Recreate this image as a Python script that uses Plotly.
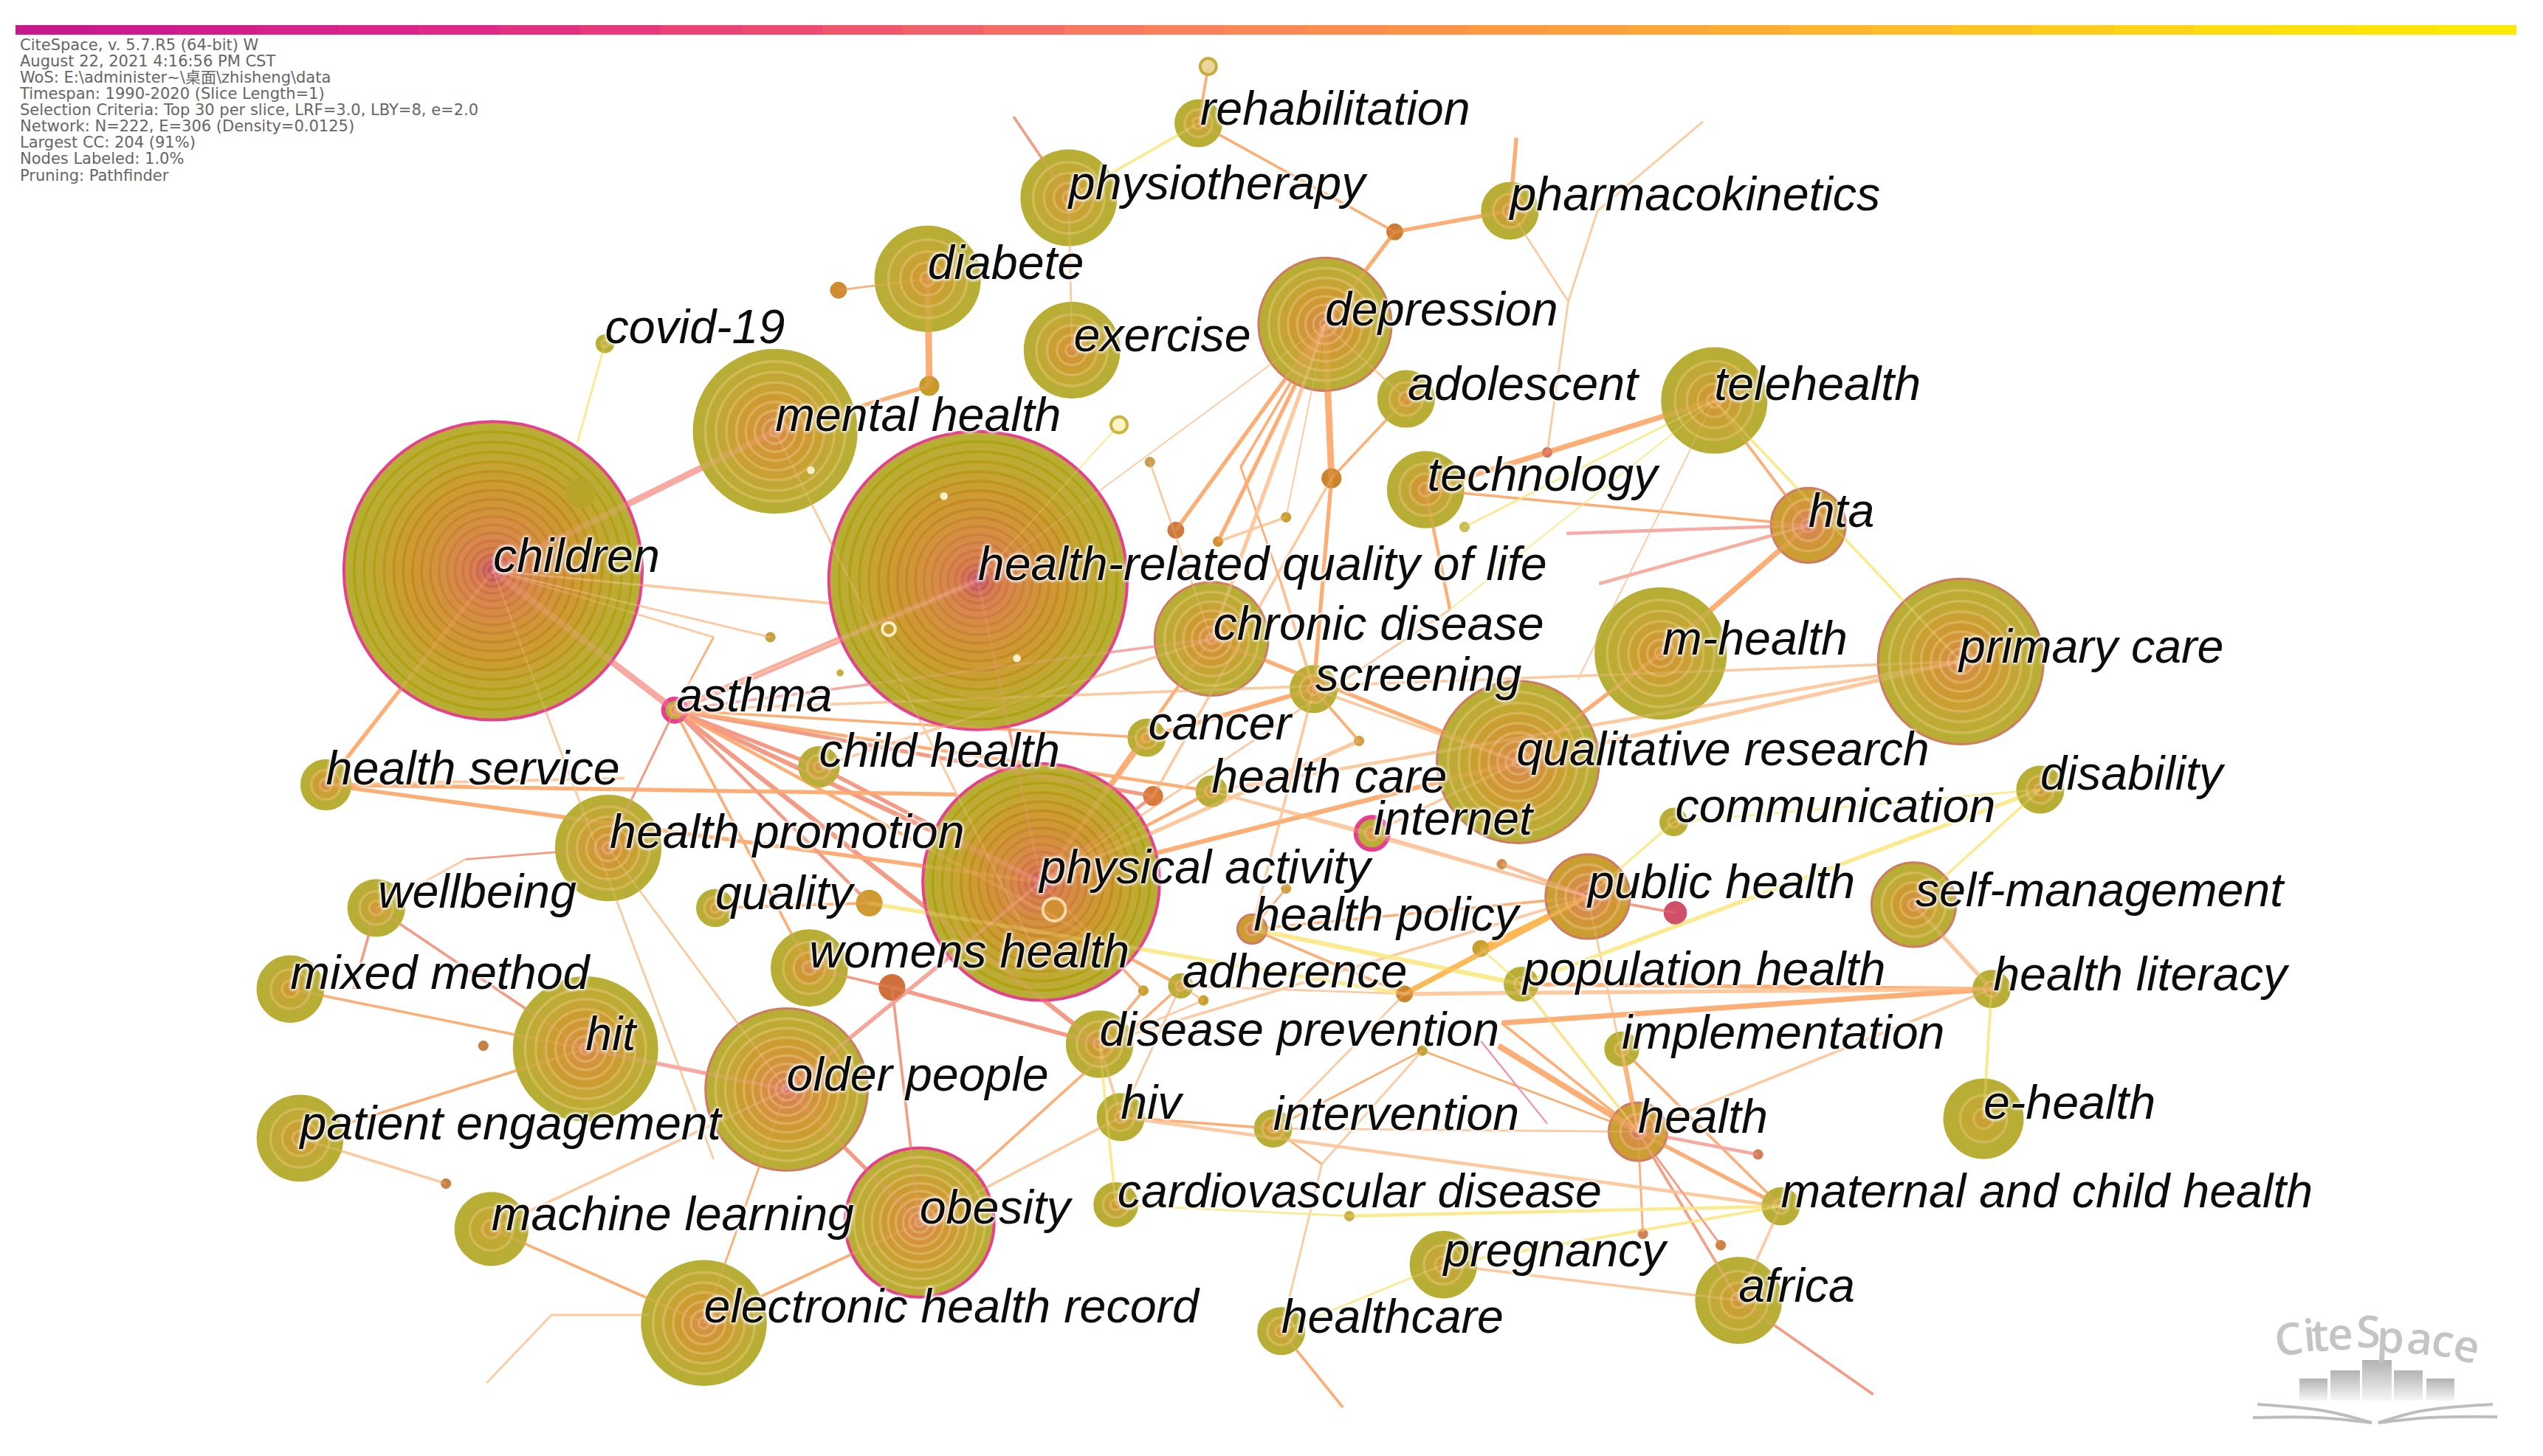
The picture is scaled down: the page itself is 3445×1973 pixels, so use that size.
import plotly.graph_objects as go

W, H = 3445, 1973
# node positions were read at this picture width, S scales them to page pixels
S = W / 1568
# the page body has a default margin, the axes start this far in to cancel it
PAD = 8

# labelled nodes
node_name = ["children", "health-related quality of life", "physical activity", "mental health", "primary care",
             "qualitative research", "m-health", "depression", "older people", "obesity", "electronic health record",
             "hit", "health promotion", "chronic disease", "diabete", "physiotherapy", "exercise", "telehealth",
             "technology", "adolescent", "pharmacokinetics", "rehabilitation", "covid-19", "hta", "asthma",
             "screening", "cancer", "child health", "health service", "wellbeing", "mixed method",
             "patient engagement", "machine learning", "quality", "womens health", "health care", "internet",
             "communication", "disability", "public health", "self-management", "health policy", "adherence",
             "population health", "health literacy", "disease prevention", "implementation", "e-health", "health",
             "hiv", "intervention", "cardiovascular disease", "maternal and child health", "pregnancy", "africa",
             "healthcare"]
node_x = [304, 603, 642, 478, 1209, 936, 1024, 817, 485, 567, 434, 361, 375, 747, 572, 659, 661, 1057, 879, 867, 931,
          739, 373, 1115, 416, 810, 707, 505, 201, 232, 179, 185, 303, 441, 499, 747, 846, 1032, 1258, 979, 1180, 772,
          728, 938, 1228, 678, 1000, 1223, 1010, 691, 785, 688, 1098, 890, 1072, 790]
node_y = [352, 358, 544, 266, 408, 470, 403, 200, 672, 754, 816, 647, 523, 394, 172, 122, 216, 247, 302, 246, 130, 76,
          212, 324, 438, 425, 455, 473, 484, 560, 610, 702, 758, 560, 597, 488, 514, 507, 487, 553, 558, 573, 608, 607,
          610, 644, 647, 690, 698, 689, 696, 743, 744, 780, 802, 821]
node_r = [92, 92, 73, 50, 51, 50, 40, 41, 50, 46, 38, 44, 32, 35, 32, 29, 29, 32, 23, 17, 17, 14, 5, 23, 7, 14, 11, 12,
          15, 17, 20, 26, 22, 11, 23, 9, 10, 8, 14, 26, 26, 9, 7, 10, 11, 20, 10, 24, 18, 14, 11, 13, 11, 20, 26, 14]
node_rings = [18, 18, 15, 9, 9, 9, 7, 8, 10, 10, 7, 8, 6, 7, 5, 5, 5, 5, 4, 3, 3, 3, 2, 4, 2, 3, 3, 3, 3, 3, 3, 4,
              3, 3, 4, 2, 2, 2, 3, 5, 5, 2, 2, 2, 2, 4, 2, 3, 3, 3, 3, 3, 2, 3, 4, 3]
# how far towards the old pink colour the core of each node goes
node_age = [1, 1, 1, .75, .8, .85, .6, .85, 1, .85, .75, .8, .75, .75, .6, .55, .7, .6, .7, .6, .7, .5, .1, .75, 1,
            .7, .55, .5, .8, .5, .5, .5, .4, .6, .75, .6, 1, .4, .6, .75, .75, .85, .7, .4, .5, .6, .3, .4, .8, .55,
            .7, .5, .2, .45, .5, .45]
pink_border = ["children", "health-related quality of life", "physical activity", "obesity", "asthma", "internet"]
tan_border = ["depression", "qualitative research", "public health", "hta", "health", "self-management", "primary care",
              "chronic disease", "older people", "health policy"]
warm_nodes = ["hta", "health", "public health", "health policy"]

label_x = [304, 603, 641, 478, 1208, 935, 1025, 817, 485, 567, 434, 361, 376, 748, 572, 659, 662, 1057, 880, 868, 931,
           740, 373, 1115, 417, 811, 708, 505, 201, 233, 179, 185, 303, 441, 499, 747, 847, 1033, 1258, 979, 1181, 773,
           729, 939, 1229, 678, 1000, 1223, 1010, 691, 785, 689, 1098, 890, 1072, 790]
label_y = [345.5, 350.5, 537.5, 258.5, 401.5, 464.5, 396.5, 193.5, 665.5, 747.5, 808.5, 640.5, 515.5, 387.5, 164.5,
           115.5, 209.5, 239.5, 295.5, 239.5, 122.5, 69.5, 204.5, 317.5, 431.5, 418.5, 448.5, 465.5, 476.5, 552.5,
           602.5, 695.5, 751.5, 553.5, 589.5, 481.5, 507.5, 499.5, 479.5, 546.5, 551.5, 566.5, 601.5, 600.5, 603.5,
           637.5, 639.5, 682.5, 691.5, 682.5, 689.5, 737.5, 737.5, 773.5, 795.5, 814.5]

# small unlabelled nodes
small_name = ["b", "c", "e", "f", "g", "h", "i", "j", "k", "l", "m", "n", "o", "p", "q", "r", "s", "t", "u", "v", "w",
              "x", "y", "z", "aa", "ab", "ac", "ad", "ae", "af", "ag"]
small_x = [517, 573, 860, 821, 725, 711, 536, 550, 1033, 913, 866, 358, 475, 709, 954, 793, 832, 298, 275, 838, 926,
           793, 705, 742, 877, 1084, 1013, 1061, 751, 903, 518]
small_y = [179, 238, 143, 295, 327, 491, 557, 609, 563, 585, 613, 304, 393, 285, 279, 319, 750, 645, 730, 457, 533,
           548, 611, 617, 648, 712, 761, 768, 334, 325, 415]
small_r = [5, 6, 5, 6, 5, 6, 8, 8, 7, 5, 5, 9, 3, 3, 3, 3, 3, 3, 3, 3, 3, 3, 3, 3, 3, 3, 3, 3, 3, 3, 2]
small_col = ["#d08a30", "#c89a28", "#d07c30", "#cc8428", "#d0793c", "#d87a3c", "#d09a30", "#d0703c", "#d0506a",
             "#c8a030", "#cc8428", "#b9a42a", "#c8a040", "#c8a050", "#d8705c", "#c8a030", "#c8b040", "#c88040",
             "#c88040", "#d0a040", "#d09050", "#d0a040", "#c8a030", "#c8a030", "#c0a030", "#d08058", "#d08058",
             "#d08040", "#d09030", "#c8c050", "#c8b040"]

# open rings and specks with a pale middle
open_x = [745, 690, 650, 548, 500, 627, 582]
open_y = [41, 262, 561, 388, 290, 406, 306]
open_r = [5, 5, 7, 4, 1.5, 1.5, 1.5]
open_line = ["#c9ab3c", "#c9b43c", "#f3dcb0", "#f6edc0", "#faf0c8", "#faf0c8", "#faf0c8"]
open_fill = ["#e8d8a0", "#fbf3c4", "#d09030", "#c8a030", "#faf0c8", "#faf0c8", "#faf0c8"]

# bends and loose ends, no circle drawn
free_name = ["f1", "f2", "f3", "f4", "f5", "f6", "f7", "f8", "f9", "f10", "f11", "f12", "f13", "f15", "f16",
             "f17", "f18", "f19", "f20", "f21", "f22", "f23", "f24", "f25", "f26", "f27", "f28", "f29", "f30", "f31",
             "f32", "f33", "f34", "f35", "a", "d"]
free_x = [985, 1050, 1125, 625, 300, 340, 400, 1155, 828, 935, 966, 967, 986, 640, 590, 287, 218, 440, 385, 750,
          973, 765, 790, 894, 924, 926, 913, 954, 815, 397, 440, 426, 511, 356, 745, 690]
free_y = [130, 75, 37, 72, 853, 811, 811, 860, 868, 85, 329, 186, 360, 590, 490, 530, 610, 715, 480, 30,
          419, 288, 360, 376, 645, 631, 642, 693, 718, 379, 393, 419, 372, 273, 41, 262]

edge_a = ["children", "children", "asthma", "asthma", "asthma", "asthma", "asthma", "asthma", "asthma", "asthma",
          "children", "children", "health service", "mental health", "diabete", "diabete", "exercise",
          "rehabilitation", "a", "rehabilitation", "e", "e", "f4", "f10", "pharmacokinetics", "f1", "f1", "f12",
          "depression", "depression", "depression", "depression", "f", "f", "telehealth", "q", "telehealth", "hta",
          "hta", "hta", "m-health", "qualitative research", "chronic disease", "chronic disease", "screening", "cancer",
          "physical activity", "physical activity", "physical activity", "physical activity", "physical activity",
          "health care", "health care", "internet", "internet", "health", "health", "health", "health", "health",
          "maternal and child health", "maternal and child health", "africa", "africa", "health literacy",
          "health literacy", "self-management", "disability", "health literacy", "health literacy", "public health",
          "public health", "m", "m", "hiv", "intervention", "intervention", "older people", "hit", "hit",
          "patient engagement", "hit", "machine learning", "electronic health record", "obesity", "obesity", "obesity",
          "obesity", "older people", "older people", "healthcare", "cardiovascular disease", "wellbeing", "wellbeing",
          "health promotion", "health promotion", "health promotion", "quality", "womens health", "f5", "f6",
          "mental health", "covid-19", "children", "d", "g", "p", "r", "primary care", "self-management", "hta",
          "screening", "communication", "communication", "k", "l", "adherence", "health policy", "disease prevention",
          "disease prevention", "pregnancy", "pregnancy", "implementation", "population health", "e-health",
          "health service"]
edge_b = ["mental health", "asthma", "health-related quality of life", "physical activity", "child health",
          "womens health", "cancer", "health promotion", "primary care", "health care", "health service", "o",
          "f16", "c", "c", "b", "physiotherapy", "physiotherapy", "rehabilitation", "e", "depression",
          "pharmacokinetics", "physiotherapy", "pharmacokinetics", "f12", "f2", "f12", "q", "f", "chronic disease",
          "g", "health-related quality of life", "screening", "h", "q", "technology", "hta", "m-health", "f11", "f13",
          "qualitative research", "primary care", "qualitative research", "asthma", "qualitative research",
          "physical activity", "child health", "health service", "h", "health care", "older people", "primary care",
          "public health", "public health", "qualitative research", "maternal and child health", "africa",
          "public health", "implementation", "f26", "pregnancy", "africa", "f8", "health",
          "population health", "m", "health literacy", "population health", "e-health", "health", "disease prevention",
          "m", "health policy", "public health", "intervention", "m", "health", "hit", "mixed method",
          "patient engagement", "u", "wellbeing", "older people", "machine learning", "older people", "j",
          "electronic health record", "hiv", "physical activity", "electronic health record", "f9", "s", "f17", "f18",
          "asthma", "older people", "f17", "i", "j", "f6", "f7", "f15", "f35", "f19", "health-related quality of life",
          "g", "chronic disease", "depression", "telehealth", "disability", "f13", "health policy", "disability",
          "public health", "public health", "population health", "obesity", "public health", "hiv",
          "cardiovascular disease", "maternal and child health", "healthcare", "health", "health", "health literacy",
          "f20"]
edge_w = [5, 5, 5, 3.5, 3, 2, 2, 1.5, 2, 2.5, 3, 1.5, 3, 3, 5, 1.5, 1.5, 2, 2, 2, 3, 3, 2, 3, 1.5, 1.5, 1.5, 1.5, 5, 3,
          3, 1, 3, 2, 4, 4, 2, 4, 2.5, 2.5, 2, 3, 3, 2, 2, 2.5, 3, 3, 2.5, 2.5, 3, 2.5, 1.5, 1.5, 2, 3, 2, 1.5, 1.5, 3, 2,
          2, 2, 2, 3, 3, 3, 3, 2, 2, 2, 2, 2, 2, 2, 1.5, 1.5, 3, 2, 2, 2, 2, 2, 2, 3, 2, 2, 2, 2, 1.5, 2, 1.5, 1.5, 2,
          1.5, 1.5, 1.5, 2, 2, 1.5, 1.5, 1.5, 1.5, 1.5, 1, 1.5, 1.5, 1, 2, 2, 2, 2, 1.5, 1.5, 2, 1.5, 2, 2, 2, 2, 1.5,
          1.5, 1.5, 2, 2, 2]
edge_col = ["P", "P", "P", "R", "R", "O", "O", "P", "L", "O", "O", "L", "O", "O", "O", "O", "L", "Y", "O", "O", "O",
            "O", "R", "O", "L", "L", "L", "L", "O", "L", "O", "L", "O", "L", "O", "O", "O", "O", "P", "P", "O", "L",
            "O", "P", "L", "O", "R", "O", "R", "O", "R", "L", "L", "P", "L", "O", "L", "L", "O", "O", "Y", "L", "R",
            "R", "O", "L", "L", "Y", "Y", "L", "L", "L", "O", "O", "O", "L", "L", "P", "O", "O", "L", "R", "L", "O",
            "R", "R", "O", "L", "P", "O", "O", "Y", "L", "R", "R", "L", "R", "O", "R", "L", "L", "L", "Y", "L", "Y",
            "O", "L", "L", "Y", "Y", "L", "L", "Y", "Y", "R", "Y", "O", "O", "L", "Y", "Y", "Y", "Y", "Y", "Y", "L"]

# lines picked out of the crowded middle of the map
more_a = ["depression", "depression", "depression", "ae", "f", "f23", "f24", "technology", "telehealth", "telehealth",
          "telehealth", "hta", "cancer", "chronic disease", "chronic disease", "chronic disease", "physical activity",
          "physical activity", "physical activity", "health care", "v", "w", "health policy", "m", "m", "health",
          "health", "f27", "f28", "hiv", "s", "intervention", "f30", "pregnancy", "pregnancy", "y", "z", "z", "asthma",
          "asthma", "asthma", "asthma", "children", "f32", "f33", "f34", "children", "o", "x", "adherence", "adherence",
          "screening", "screening", "ab", "ac", "ad", "health", "health", "health", "maternal and child health",
          "public health", "public health", "communication", "qualitative research", "health-related quality of life",
          "health-related quality of life", "disease prevention", "disease prevention", "l", "aa", "aa"]
more_b = ["ae", "f23", "adolescent", "r", "adolescent", "f24", "screening", "f25", "af", "f25", "f22", "technology",
          "screening", "child health", "physical activity", "depression", "f25", "v", "qualitative research", "internet",
          "screening", "public health", "population health", "public health", "i", "f26", "f27", "health literacy",
          "f29", "maternal and child health", "maternal and child health", "f30", "healthcare", "maternal and child health",
          "africa", "physical activity", "disease prevention", "adherence", "i", "disease prevention", "adherence", "h",
          "f32", "f33", "asthma", "children", "f34", "children", "health policy", "m", "hiv", "v", "f24", "health",
          "health", "health", "aa", "implementation", "population health", "implementation", "w", "internet", "public health",
          "m-health", "asthma", "physical activity", "j", "y", "public health", "intervention", "f30"]
more_w = [3, 2, 1.5, 2, 2, 1.5, 2, 2.5, 1.5, 1, 1, 2, 3.5, 2, 2.5, 1.5, 1.5, 3, 3.5, 2, 1.5, 2.5, 3.5, 4, 3, 4.5, 2,
          4, 1.2, 2.5, 2.5, 1.5, 1.5, 2, 2, 2, 1.5, 1.5, 2.5, 3.5, 2.5, 3, 1.5, 1.5, 1.5, 1.5, 2, 1, 1.5, 1.5, 1.5, 2, 2,
          2.5, 1.5, 1.5, 1.5, 3.5, 1.5, 2, 2.5, 2, 1.5, 3, 1.5, 2, 3, 2, 3.5, 1.5, 1.5]
more_col = ["O", "O", "L", "L", "O", "O", "O", "O", "Y", "Y", "L", "O", "O", "L", "O", "L", "L", "L", "O", "L", "O",
            "R", "Y", "G", "Y", "O", "O", "O", "V", "L", "Y", "O", "L", "Y", "L", "O", "L", "L", "R", "R", "O", "R", "L",
            "O", "L", "L", "L", "L", "O", "L", "L", "O", "L", "P", "O", "R", "O", "O", "L", "O", "L", "L", "Y", "O", "L",
            "R", "R", "O", "G", "O", "L"]

line_colors = {"P": "#f9a9a3", "R": "#f59a84", "O": "#fdae74", "L": "#fdcaa0", "Y": "#fbeb8e", "G": "#fdb84c",
               "V": "#f090b0"}

# new to old going inward, the outer bands are the newest years
ring_ramp = ["#b9ae35", "#c2a834", "#cc9c30", "#d29438", "#d68c48", "#d87e50", "#c85a6e"]
ring_line = ["#aaa410", "#b4a016", "#c08e20", "#c88630", "#cf7f40", "#d07048", "#c05068"]

years = list(range(1990, 2021))
bar_colors = [[0, "#c9188e"], [.15, "#dd2588"], [.3, "#ef4a74"], [.45, "#f97f5e"], [.6, "#fd9a42"], [.75, "#ffb92c"],
              [.9, "#ffdc10"], [1, "#ffe900"]]

info_lines = ["CiteSpace, v. 5.7.R5 (64-bit) W", "August 22, 2021 4:16:56 PM CST",
              "WoS: E:\\administer~\\桌面\\zhisheng\\data", "Timespan: 1990-2020 (Slice Length=1)",
              "Selection Criteria: Top 30 per slice, LRF=3.0, LBY=8, e=2.0",
              "Network: N=222, E=306 (Density=0.0125)", "Largest CC: 204 (91%)", "Nodes Labeled: 1.0%",
              "Pruning: Pathfinder"]
info_y = [61, 83, 105, 127, 149, 171, 193, 215, 238]

# logo, in page pixels
logo_letters = list("CiteSpace")
logo_x = [3100, 3128, 3143, 3170, 3208, 3238, 3278, 3310, 3342]
logo_y = [1813, 1808, 1808, 1806, 1803, 1810, 1812, 1815, 1822]
logo_angle = [-8, -5, -3, -1, 0, 3, 6, 10, 14]
logo_bar_left = [3115, 3157, 3200, 3243, 3287]
logo_bar_right = [3153, 3197, 3240, 3282, 3325]
logo_bar_top = [1868, 1857, 1843, 1857, 1868]
logo_bar_bottom = 1898
book_x = [[3058, 3150, 3213], [3052, 3140, 3213], [3377, 3280, 3222], [3383, 3290, 3222]]
book_y = [[1903, 1912, 1928], [1921, 1921, 1928], [1903, 1912, 1928], [1920, 1921, 1928]]

pos = {}
for n, x, y in zip(node_name, node_x, node_y):
    pos[n] = (x, y)
for n, x, y in zip(small_name, small_x, small_y):
    pos[n] = (x, y)
for n, x, y in zip(free_name, free_x, free_y):
    pos[n] = (x, y)

all_a = edge_a + more_a
all_b = edge_b + more_b
all_w = edge_w + more_w
all_col = edge_col + more_col


def mix(c1, c2, t):
    a = [int(c1[i:i + 2], 16) for i in (1, 3, 5)]
    b = [int(c2[i:i + 2], 16) for i in (1, 3, 5)]
    return "#%02x%02x%02x" % tuple(round(p + (q - p) * t) for p, q in zip(a, b))


def ramp(colors, t):
    t = min(max(t, 0), 1) * (len(colors) - 1)
    i = min(int(t), len(colors) - 2)
    return mix(colors[i], colors[i + 1], t - i)


def edge_traces(opacity):
    traces = []
    groups = {}
    for a, b, w, c in zip(all_a, all_b, all_w, all_col):
        groups.setdefault((w, c), []).append((a, b))
    for (w, c), pairs in groups.items():
        xs, ys = [], []
        for a, b in pairs:
            xs += [pos[a][0] * S, pos[b][0] * S, None]
            ys += [pos[a][1] * S, pos[b][1] * S, None]
        traces.append(go.Scatter(x=xs, y=ys, mode="lines", opacity=opacity, hoverinfo="skip",
                                 line=dict(color=line_colors[c], width=w * S * 0.8)))
    return traces


fig = go.Figure()

# time slices on top
fig.add_trace(go.Heatmap(x=years, y=[0], z=[years], colorscale=bar_colors, showscale=False, xaxis="x2", yaxis="y2",
                         hoverinfo="skip"))

fig.add_traces(edge_traces(1))

# tree rings, biggest first so the small ones stay on top
order = sorted(range(len(node_name)), key=lambda i: -node_r[i])
rx, ry, rs, rc, rlc, rlw = [], [], [], [], [], []
for i in order:
    n = node_rings[i]
    start = .3 if node_name[i] in warm_nodes else 0
    for k in range(n):
        f = k / n
        t = start + f * node_age[i] * 1.05
        fill = ramp(ring_ramp, t)
        rx.append(node_x[i] * S)
        ry.append(node_y[i] * S)
        rs.append(2 * node_r[i] * S * (1 - f) ** 1.25)
        rc.append(fill)
        if node_r[i] > 60:
            rlc.append(ramp(ring_line, t))
            rlw.append(3.5)
        else:
            rlc.append(mix(fill, "#ead48a", .4))
            rlw.append(3.5)
    if node_name[i] in pink_border:
        rlc[-n] = "#e63f8e"
        rlw[-n] = 4 if node_r[i] > 20 else 6
    elif node_name[i] in tan_border:
        rlc[-n] = "#cf7a62"
        rlw[-n] = 3
    else:
        rlc[-n] = rc[-n]
for i in range(len(small_name)):
    rx.append(small_x[i] * S)
    ry.append(small_y[i] * S)
    rs.append(2 * small_r[i] * S)
    rc.append(small_col[i])
    rlc.append(small_col[i])
    rlw.append(1)
for i in range(len(open_x)):
    rx.append(open_x[i] * S)
    ry.append(open_y[i] * S)
    rs.append(2 * open_r[i] * S)
    rc.append(open_fill[i])
    rlc.append(open_line[i])
    rlw.append(4)
fig.add_trace(go.Scatter(x=rx, y=ry, mode="markers", hoverinfo="skip",
                         marker=dict(size=rs, sizemode="diameter", color=rc, opacity=1,
                                     line=dict(color=rlc, width=rlw))))

# lines show faintly through the nodes
fig.add_traces(edge_traces(0.25))

fig.add_trace(go.Scatter(x=[v * S for v in label_x], y=[v * S for v in label_y], text=node_name, mode="text",
                         textposition="middle right", hoverinfo="skip",
                         textfont=dict(family="Liberation Sans", size=64.5, color="#0c0c0c", style="italic",
                                       shadow="0 0 5px #fff, 0 0 5px #fff, 0 0 5px #fff, 0 0 3px #fff")))

fig.add_trace(go.Scatter(x=[27] * len(info_lines), y=[v + 2 for v in info_y], text=info_lines, mode="text",
                         textposition="middle right", hoverinfo="skip",
                         textfont=dict(family="DejaVu Sans, Noto Sans CJK SC", size=21, color="#666666")))

# logo
for l, r, t in zip(logo_bar_left, logo_bar_right, logo_bar_top):
    fig.add_trace(go.Scatter(x=[l, r, r, l, l], y=[t, t, logo_bar_bottom, logo_bar_bottom, t], mode="lines",
                             fill="toself", line=dict(width=0), hoverinfo="skip",
                             fillgradient=dict(type="vertical",
                                               colorscale=[[0, "#f6f6f6"], [1, "#b4b2b2"]])))
for bx, by in zip(book_x, book_y):
    fig.add_trace(go.Scatter(x=bx, y=by, mode="lines", hoverinfo="skip",
                             line=dict(color="#bdbdbd", width=4, shape="spline")))

annotations = []
for ch, x, y, a in zip(logo_letters, logo_x, logo_y, logo_angle):
    annotations.append(dict(x=x, y=y, text=ch, textangle=a, showarrow=False,
                            font=dict(family="Open Sans", size=60, color="#c4c4c4", weight=600)))

fig.update_layout(
    width=W, height=H, margin=dict(l=0, r=0, t=0, b=0), autosize=False,
    paper_bgcolor="white", plot_bgcolor="white", showlegend=False, annotations=annotations,
    xaxis=dict(range=[PAD, W + PAD], visible=False, fixedrange=True),
    yaxis=dict(range=[H + PAD, PAD], visible=False, fixedrange=True),
    xaxis2=dict(domain=[(21 - PAD) / W, (3409 - PAD) / W], range=[1989.5, 2020.5], visible=False, anchor="y2"),
    yaxis2=dict(domain=[1 - (47 - PAD) / H, 1 - (34 - PAD) / H], range=[-0.5, 0.5], visible=False, anchor="x2"),
)

fig.write_html("out.html")
